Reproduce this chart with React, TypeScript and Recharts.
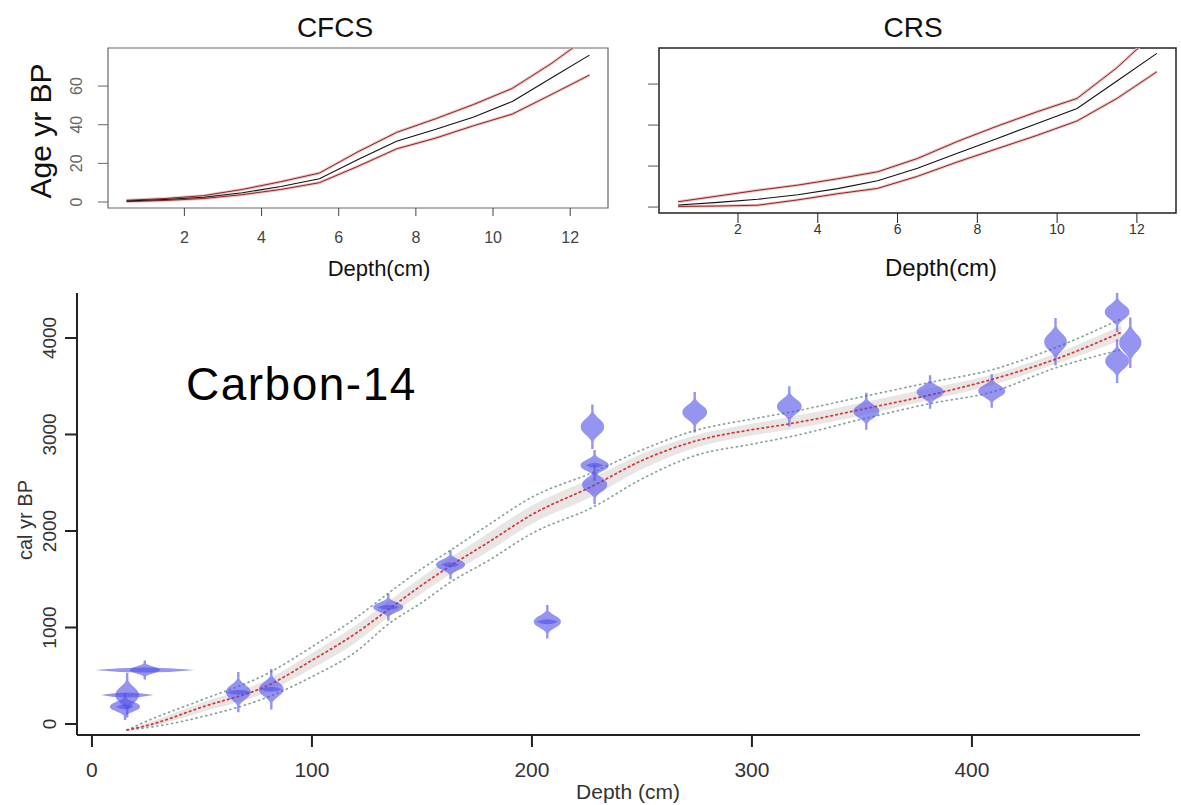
import React from 'react';
import {
  ComposedChart,
  LineChart,
  Line,
  Area,
  Scatter,
  XAxis,
  YAxis,
  ReferenceArea
} from 'recharts';

const FONT = '"Liberation Sans", Arial, Helvetica, sans-serif';

// --- top panels: 210Pb age models ---
const sliceDepth = [0.5, 1.5, 2.5, 3.5, 4.5, 5.5, 6.5, 7.5, 8.5, 9.5, 10.5, 11.5, 12.5];
const cfcsMean = [0.5, 1.3, 2.5, 4.8, 8, 12, 22, 31.5, 37.5, 44, 52, 64, 76];
const cfcsLow = [0.2, 0.8, 1.8, 3.8, 6.5, 10, 18.5, 27.5, 33, 39.5, 45.5, 55.5, 65.7];
const cfcsHigh = [0.9, 1.8, 3.3, 6.5, 10.5, 15, 26, 36, 43, 50.5, 58.8, 71.5, 86];
const crsMean = [1, 2.3, 3.8, 6, 9, 12.8, 18.9, 26.2, 33.5, 40.8, 48.1, 61.5, 75];
const crsLow = [0.3, 0.5, 0.9, 3.5, 6.5, 9.1, 15, 22, 28.5, 35, 42, 53, 66];
const crsHigh = [2.6, 5.4, 8.2, 10.7, 13.8, 17.2, 23.7, 32, 39.5, 46.5, 53, 68, 86];
const pbDepthTicks = [2, 4, 6, 8, 10, 12];
const pbAgeTicks = [0, 20, 40, 60];

// --- Carbon-14 age-depth model ---
const modelDepth = [16, 26, 50, 80, 100, 120, 135, 150, 163, 180, 200, 228, 250, 274, 300, 317, 352, 381, 409, 438, 468];
const modelMean = [-62, -10, 175, 400, 660, 940, 1190, 1440, 1640, 1880, 2170, 2470, 2730, 2930, 3050, 3110, 3270, 3410, 3570, 3780, 4060];
const modelMin = [-62, -35, 75, 280, 490, 750, 1040, 1260, 1470, 1690, 1975, 2250, 2540, 2780, 2900, 2975, 3170, 3320, 3440, 3690, 3880];
const modelMax = [-62, 40, 250, 525, 800, 1100, 1360, 1610, 1800, 2060, 2350, 2610, 2840, 3040, 3160, 3230, 3400, 3540, 3670, 3900, 4200];
const shadeMin = [-62, -28, 125, 335, 575, 845, 1115, 1355, 1555, 1785, 2075, 2365, 2640, 2860, 2990, 3050, 3210, 3360, 3510, 3730, 3980];
const shadeMax = [-62, 18, 220, 465, 735, 1025, 1275, 1525, 1725, 1975, 2265, 2555, 2800, 2990, 3110, 3180, 3340, 3480, 3620, 3840, 4130];

// calibrated dates: depth, median age, spread (yr), half depth-range of the sample
const dateDepth = [24, 16, 15, 66.5, 81.5, 134.7, 163, 207, 227.5, 228.5, 228.5, 274, 317, 352, 381, 409, 438, 466, 466, 472];
const dateAge = [560, 300, 180, 330, 360, 1210, 1650, 1060, 3080, 2680, 2480, 3230, 3290, 3240, 3440, 3450, 3960, 4270, 3760, 3950];
const dateSd = [34, 80, 48, 72, 72, 48, 52, 60, 80, 55, 70, 72, 72, 66, 60, 60, 85, 72, 78, 90];
const dateSpan = [22.7, 12, 4, 6, 5, 5, 4, 5, 0, 4, 0, 0, 0, 0, 0, 0, 0, 0, 0, 0];
const c14DepthTicks = [0, 100, 200, 300, 400];
const c14AgeTicks = [0, 1000, 2000, 3000, 4000];

const cfcsRows = sliceDepth.map((d, i) => ({ depth: d, mean: cfcsMean[i], low: cfcsLow[i], high: cfcsHigh[i] }));
const crsRows = sliceDepth.map((d, i) => ({ depth: d, mean: crsMean[i], low: crsLow[i], high: crsHigh[i] }));
const modelRows = modelDepth.map((d, i) => ({
  depth: d,
  mean: modelMean[i],
  min: modelMin[i],
  max: modelMax[i],
  shade: [shadeMin[i], shadeMax[i]]
}));
const dateRows = dateDepth.map((d, i) => ({ depth: d, age: dateAge[i], sd: dateSd[i], span: dateSpan[i] }));

// Carbon-14 plot geometry (used to size the violins)
const C14_X = [-6.8, 476.4];
const C14_Y = [-114, 4466];
const C14_PLOT_W = 1063;
const C14_PLOT_H = 442;
const AGE_PX = C14_PLOT_H / (C14_Y[1] - C14_Y[0]);
const DEPTH_PX = C14_PLOT_W / (C14_X[1] - C14_X[0]);

const Violin = (p: any) => {
  const { cx, cy, payload } = p;
  if (cx == null || cy == null) return <g />;
  const sdPx = payload.sd * AGE_PX;
  const H = sdPx * 2.9;
  const W = Math.min(15, Math.max(9, 12.5 * Math.sqrt(70 / payload.sd)));
  const n = 48;
  const right: string[] = [];
  const left: string[] = [];
  for (let i = 0; i <= n; i++) {
    const t = -1 + (2 * i) / n;
    const z = Math.abs(t * 2.9);
    const w = Math.max(1.2, W * Math.exp(-0.5 * Math.pow(z, 2.4)));
    right.push(`${(cx + w).toFixed(1)},${(cy + t * H).toFixed(1)}`);
    left.unshift(`${(cx - w).toFixed(1)},${(cy + t * H).toFixed(1)}`);
  }
  const L = payload.span * DEPTH_PX;
  return (
    <g>
      <polygon points={[...right, ...left].join(' ')} fill="#4f4fe8" fillOpacity={0.6} />
      {L > 0 && (
        <path
          d={`M${cx - L},${cy} Q${cx},${cy - 5} ${cx + L},${cy} Q${cx},${cy + 5} ${cx - L},${cy} Z`}
          fill="#4f4fe8"
          fillOpacity={0.6}
        />
      )}
    </g>
  );
};

const RotTick = (p: any) => {
  const { y, payload, px, size, color } = p;
  return (
    <text
      x={px}
      y={y}
      transform={`rotate(-90 ${px} ${y})`}
      textAnchor="middle"
      dominantBaseline="central"
      fontSize={size}
      fill={color}
      fontFamily={FONT}
    >
      {payload.value}
    </text>
  );
};

const AxisTitle = (p: any) => {
  const { px, py, text, size, rotate, color } = p;
  return (
    <text
      x={px}
      y={py}
      transform={rotate ? `rotate(-90 ${px} ${py})` : undefined}
      textAnchor="middle"
      dominantBaseline="central"
      fontSize={size}
      fill={color || '#111'}
      fontFamily={FONT}
    >
      {text}
    </text>
  );
};

const pbLines = () => [
  <Line key="hh" dataKey="high" stroke="#ecc4c4" strokeWidth={3} dot={false} isAnimationActive={false} />,
  <Line key="lh" dataKey="low" stroke="#ecc4c4" strokeWidth={3} dot={false} isAnimationActive={false} />,
  <Line key="h" dataKey="high" stroke="#8e2424" strokeWidth={1} dot={false} isAnimationActive={false} />,
  <Line key="l" dataKey="low" stroke="#8e2424" strokeWidth={1} dot={false} isAnimationActive={false} />,
  <Line key="m" dataKey="mean" stroke="#111" strokeWidth={1.1} dot={false} isAnimationActive={false} />
];

export default function App() {
  return (
    <div
      style={{
        position: 'absolute',
        left: 0,
        top: 0,
        width: 1181,
        height: 805,
        background: '#fff',
        fontFamily: FONT,
        overflow: 'hidden'
      }}
    >
      {/* CFCS panel */}
      <div style={{ position: 'absolute', left: 0, top: 0 }}>
        <LineChart width={620} height={290} data={cfcsRows} margin={{ top: 48, right: 12, bottom: 42, left: 68 }}>
          <XAxis
            dataKey="depth"
            type="number"
            domain={[0.02, 12.98]}
            ticks={pbDepthTicks}
            axisLine={false}
            tickSize={8}
            tickMargin={16}
            tickLine={{ stroke: '#444' }}
            tick={{ fontSize: 16, fill: '#444', fontFamily: FONT }}
            height={40}
            label={<AxisTitle px={379} py={268} text="Depth(cm)" size={22} />}
          />
          <YAxis
            type="number"
            domain={[-3.1, 79.7]}
            allowDataOverflow
            ticks={pbAgeTicks}
            axisLine={false}
            width={40}
            tickSize={10}
            tickLine={{ stroke: '#666' }}
            tick={(p: any) => <RotTick {...p} px={77} size={16} color="#666" />}
            label={<AxisTitle px={40} py={131} text="Age yr BP" size={30} rotate />}
          />
          <ReferenceArea x1={0.02} x2={12.98} y1={-3.1} y2={79.7} fill="none" stroke="#666" strokeWidth={1.2} />
          {pbLines()}
        </LineChart>
        <div
          style={{
            position: 'absolute',
            left: 235,
            top: 14,
            width: 200,
            textAlign: 'center',
            fontSize: 28,
            lineHeight: 1,
            color: '#111'
          }}
        >
          CFCS
        </div>
      </div>

      {/* CRS panel */}
      <div style={{ position: 'absolute', left: 620, top: 0 }}>
        <LineChart width={561} height={290} data={crsRows} margin={{ top: 48, right: 5, bottom: 37, left: 9 }}>
          <XAxis
            dataKey="depth"
            type="number"
            domain={[0.02, 12.98]}
            ticks={pbDepthTicks}
            axisLine={false}
            tickSize={10}
            tickMargin={1}
            tickLine={{ stroke: '#222' }}
            tick={{ fontSize: 14, fill: '#333', fontFamily: FONT }}
            height={40}
            label={<AxisTitle px={321} py={267} text="Depth(cm)" size={24} />}
          />
          <YAxis
            type="number"
            domain={[-2.9, 77.6]}
            allowDataOverflow
            ticks={pbAgeTicks}
            axisLine={false}
            width={30}
            tickSize={11}
            tickLine={{ stroke: '#555' }}
            tick={() => <g />}
          />
          <ReferenceArea x1={0.02} x2={12.98} y1={-2.9} y2={77.6} fill="none" stroke="#222" strokeWidth={1.5} />
          {pbLines()}
        </LineChart>
        <div
          style={{
            position: 'absolute',
            left: 193,
            top: 14,
            width: 200,
            textAlign: 'center',
            fontSize: 28,
            lineHeight: 1,
            color: '#111'
          }}
        >
          CRS
        </div>
      </div>

      {/* Carbon-14 panel */}
      <div style={{ position: 'absolute', left: 0, top: 280 }}>
        <ComposedChart width={1181} height={525} data={modelRows} margin={{ top: 13, right: 41, bottom: 30, left: 27 }}>
          <XAxis
            dataKey="depth"
            type="number"
            domain={C14_X}
            ticks={c14DepthTicks}
            axisLine={{ stroke: '#222', strokeWidth: 2 }}
            tickLine={{ stroke: '#222', strokeWidth: 2 }}
            tickSize={12}
            tickMargin={15}
            tick={{ fontSize: 21, fill: '#333', fontFamily: FONT }}
            height={40}
            label={<AxisTitle px={628} py={511} text="Depth (cm)" size={21} color="#333" />}
          />
          <YAxis
            type="number"
            domain={C14_Y}
            allowDataOverflow
            ticks={c14AgeTicks}
            width={50}
            axisLine={{ stroke: '#222', strokeWidth: 2 }}
            tickLine={{ stroke: '#222', strokeWidth: 2 }}
            tickSize={12}
            tick={(p: any) => <RotTick {...p} px={50} size={19} color="#333" />}
            label={<AxisTitle px={25} py={240} text="cal yr BP" size={20} rotate color="#333" />}
          />
          <Area
            dataKey="shade"
            type="monotone"
            stroke="none"
            fill="#d6cccc"
            fillOpacity={0.5}
            isAnimationActive={false}
          />
          <Line
            dataKey="max"
            type="monotone"
            stroke="#86a298"
            strokeWidth={1.7}
            strokeDasharray="1 4"
            strokeLinecap="round"
            dot={false}
            isAnimationActive={false}
          />
          <Line
            dataKey="min"
            type="monotone"
            stroke="#86a298"
            strokeWidth={1.7}
            strokeDasharray="1 4"
            strokeLinecap="round"
            dot={false}
            isAnimationActive={false}
          />
          <Line
            dataKey="mean"
            type="monotone"
            stroke="#d23c3c"
            strokeWidth={1.8}
            strokeDasharray="1.5 3.5"
            strokeLinecap="round"
            dot={false}
            isAnimationActive={false}
          />
          <Scatter data={dateRows} dataKey="age" shape={(p: any) => <Violin {...p} />} isAnimationActive={false} />
        </ComposedChart>
        <div
          style={{
            position: 'absolute',
            left: 186,
            top: 81,
            fontSize: 46,
            lineHeight: 1,
            color: '#000',
            whiteSpace: 'nowrap',
            letterSpacing: 1.5
          }}
        >
          Carbon-14
        </div>
      </div>
    </div>
  );
}
